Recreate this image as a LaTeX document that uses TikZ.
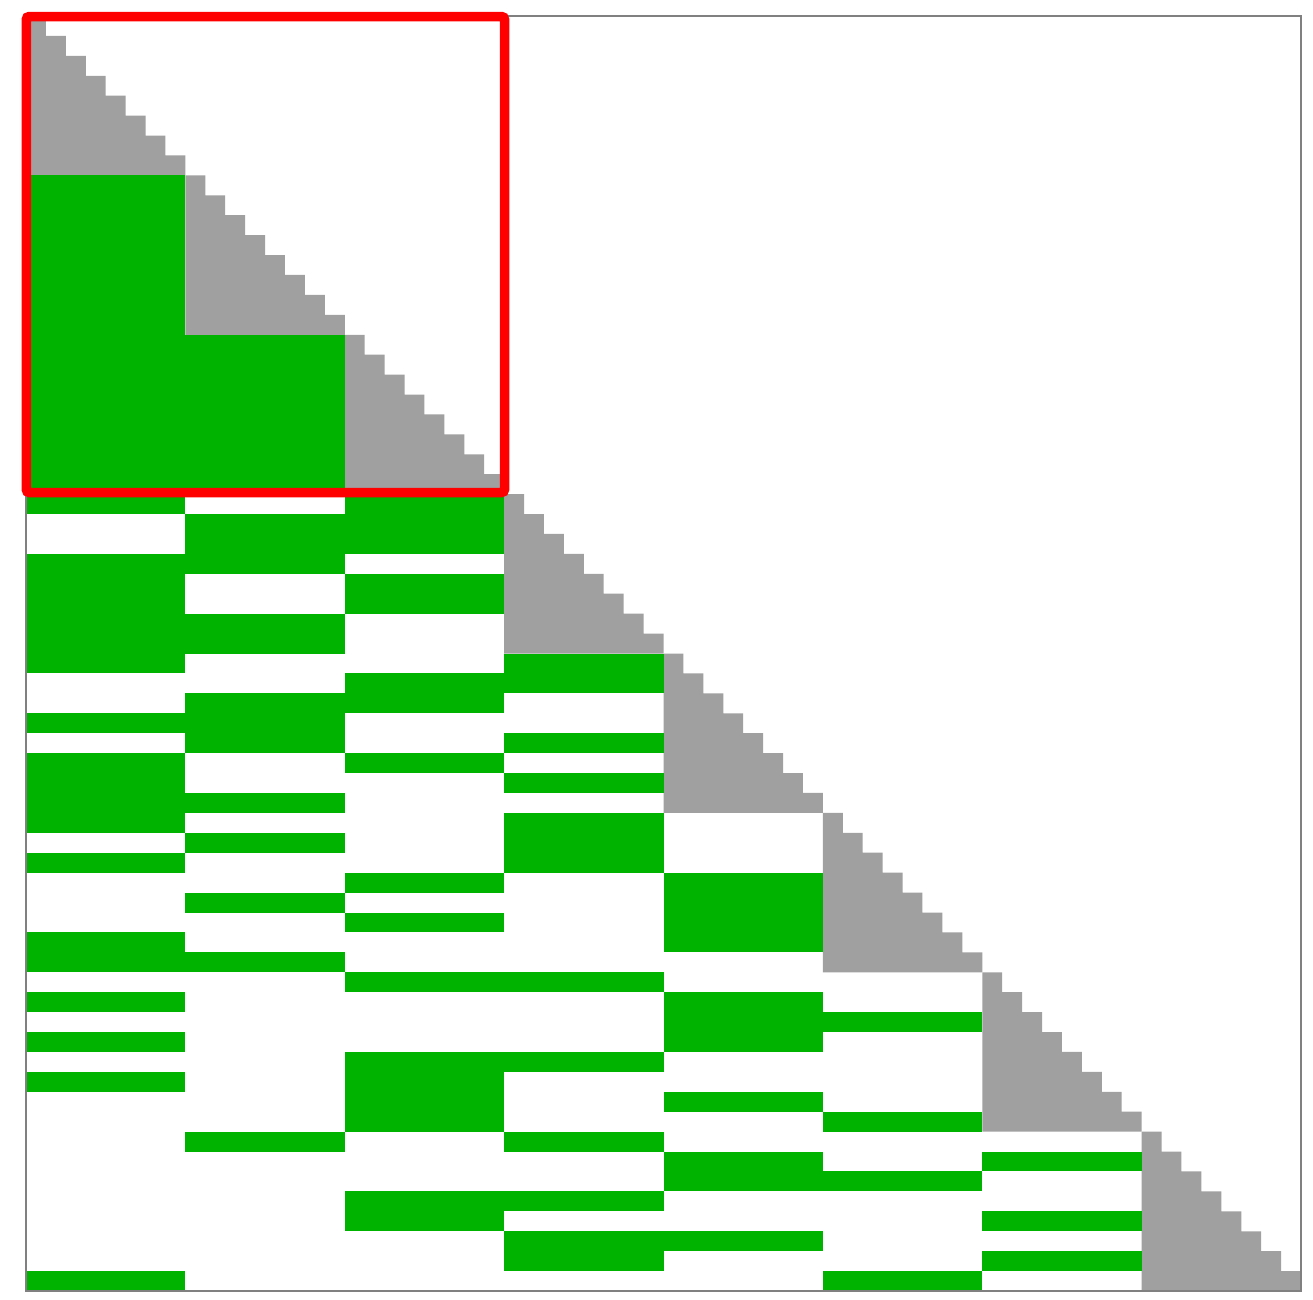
\documentclass[tikz,border=0pt]{standalone}
\usepackage{tikz}
\definecolor{cellgreen}{RGB}{0,179,0}
\definecolor{cellgray}{RGB}{160,160,160}
\definecolor{framegray}{RGB}{128,128,128}
\definecolor{hired}{RGB}{255,0,0}
\tikzset{
  gcell/.style={fill=cellgreen},
  dcell/.style={fill=cellgray},
  mframe/.style={draw=framegray,line width=1.2pt},
  hilite/.style={draw=hired,line width=9.5pt,rounded corners=3pt}
}
\newcommand{\gbar}[3]{%
  \fill[gcell] ({26+8*#1*19.921875},{16+#2*19.921875}) rectangle ({26+8*(#1+1)*19.921875},{16+(#3+1)*19.921875});}
\begin{document}
\begin{tikzpicture}[x=1pt,y=-1pt]
\useasboundingbox (0,0) rectangle (1313,1299);
\fill[white] (0,0) rectangle (1313,1299);
% diagonal staircase blocks
\foreach \b in {0,...,7}{
  \pgfmathsetmacro{\bx}{26+8*\b*19.921875}
  \pgfmathsetmacro{\by}{16+8*\b*19.921875}
  \fill[dcell] (\bx,\by)
    \foreach \i in {1,...,8}{ -- ({\bx+\i*19.921875},{\by+(\i-1)*19.921875}) -- ({\bx+\i*19.921875},{\by+\i*19.921875}) }
    -- (\bx,{\by+8*19.921875}) -- cycle;
}
% column 0
\gbar{0}{8}{24}\gbar{0}{27}{32}\gbar{0}{35}{35}\gbar{0}{37}{40}\gbar{0}{42}{42}
\gbar{0}{46}{47}\gbar{0}{49}{49}\gbar{0}{51}{51}\gbar{0}{53}{53}\gbar{0}{63}{63}
% column 1
\gbar{1}{16}{23}\gbar{1}{25}{27}\gbar{1}{30}{31}\gbar{1}{34}{36}\gbar{1}{39}{39}
\gbar{1}{41}{41}\gbar{1}{44}{44}\gbar{1}{47}{47}\gbar{1}{56}{56}
% column 2
\gbar{2}{24}{26}\gbar{2}{28}{29}\gbar{2}{33}{34}\gbar{2}{37}{37}\gbar{2}{43}{43}
\gbar{2}{45}{45}\gbar{2}{48}{48}\gbar{2}{52}{55}\gbar{2}{59}{60}
% column 3
\gbar{3}{32}{33}\gbar{3}{36}{36}\gbar{3}{38}{38}\gbar{3}{40}{42}\gbar{3}{48}{48}
\gbar{3}{52}{52}\gbar{3}{56}{56}\gbar{3}{59}{59}\gbar{3}{61}{62}
% column 4
\gbar{4}{43}{46}\gbar{4}{49}{51}\gbar{4}{54}{54}\gbar{4}{57}{58}\gbar{4}{61}{61}
% column 5
\gbar{5}{50}{50}\gbar{5}{55}{55}\gbar{5}{58}{58}\gbar{5}{63}{63}
% column 6
\gbar{6}{57}{57}\gbar{6}{60}{60}\gbar{6}{62}{62}
% frame
\draw[mframe] (26,16) rectangle (1301,1291);
% highlight
\draw[hilite] (26.3,16.5) rectangle (504.5,492.5);
\end{tikzpicture}
\end{document}
